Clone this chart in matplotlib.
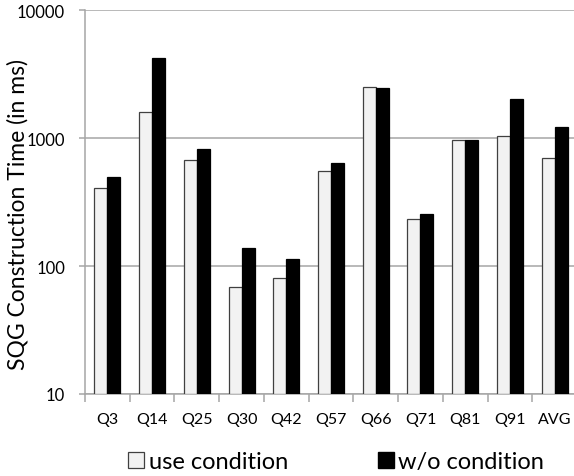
import numpy as np
import matplotlib.pyplot as plt
from matplotlib.patches import Patch

plt.rcParams['font.family'] = ['Lato', 'DejaVu Sans']

# Data (log scale, ms)
queries = ['Q3', 'Q14', 'Q25', 'Q30', 'Q42', 'Q57', 'Q66', 'Q71', 'Q81', 'Q91', 'AVG']
use_cond = [404, 1604, 676, 69, 80, 552, 2516, 234, 965, 1042, 702]
wo_cond = [493, 4196, 820, 137, 114, 641, 2445, 253, 960, 2017, 1213]
yticks = [10, 100, 1000, 10000]

fig = plt.figure(figsize=(5.74, 4.77), dpi=100)
W, H = 574, 477
# plot area runs a little past the right edge, like the reference
ax = fig.add_axes([85 / W, (H - 395) / H, (577 - 85) / W, (395 - 11) / H])

x = np.arange(len(queries))
w = 0.29
base = 10
ax.bar(x - w / 2, np.array(use_cond) - base, w, bottom=base, color='#f2f2f2',
       edgecolor='#404040', linewidth=0.9, zorder=3)
ax.bar(x + w / 2, np.array(wo_cond) - base, w, bottom=base, color='black',
       edgecolor='black', linewidth=0.9, zorder=3)

ax.set_yscale('log')
ax.set_ylim(10, 10000)
ax.set_xlim(-0.5, len(queries) - 0.5)
ax.set_yticks(yticks)
ax.set_yticklabels([str(t) for t in yticks], fontsize=12)
ax.minorticks_off()
ax.yaxis.grid(True, color='#a6a6a6', linewidth=1.1, zorder=0)
ax.tick_params(axis='y', length=4.3, color='#a6a6a6', width=1.1, pad=10)

ax.set_xticks(x)
ax.set_xticklabels(queries, fontsize=11.5)
ax.set_xticks(np.arange(-0.5, len(queries), 1.0), minor=True)
ax.tick_params(axis='x', which='major', length=0, pad=13)
ax.tick_params(axis='x', which='minor', length=5.8, color='#a6a6a6', width=1.1)

for s in ['top', 'right']:
    ax.spines[s].set_visible(False)
for s in ['left', 'bottom']:
    ax.spines[s].set_color('#a6a6a6')
    ax.spines[s].set_linewidth(1.1)

fig.text(17.5 / W, 1 - 214 / H, 'SQG Construction Time (in ms)', rotation=90,
         ha='center', va='center', fontsize=16.5)

handles = [Patch(facecolor='#f2f2f2', edgecolor='#404040', linewidth=0.9),
           Patch(facecolor='black', edgecolor='black')]
fig.legend(handles, ['use condition', 'w/o condition'], loc='center',
           bbox_to_anchor=(336 / W, 1 - 462.5 / H), ncol=2, frameon=False,
           fontsize=17, handlelength=0.68, handleheight=0.68, handletextpad=0.2,
           columnspacing=3.8)

fig.savefig('out.png', dpi=100)
